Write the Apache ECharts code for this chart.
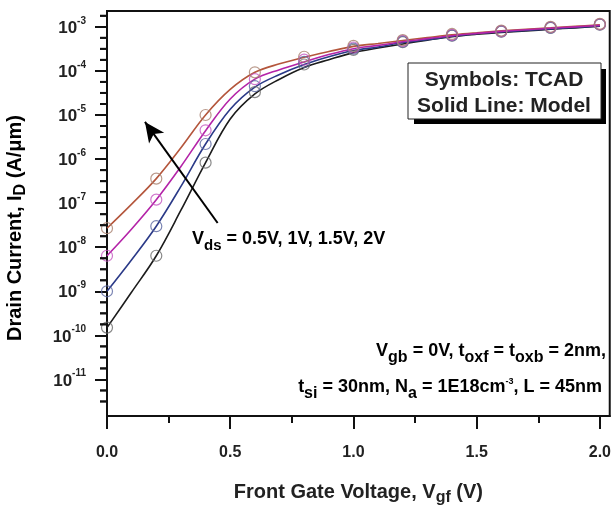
<!DOCTYPE html>
<html><head><meta charset="utf-8">
<script src="https://cdn.jsdelivr.net/npm/echarts@6/dist/echarts.min.js"></script>
<style>html,body{margin:0;padding:0;background:#fff}#c{width:614px;height:511px}</style>
</head><body><div id="c"></div>
<script>
// Model (solid lines) x grid
var xModel = [0,0.1,0.2,0.3,0.4,0.5,0.6,0.7,0.8,0.9,1.0,1.1,1.2,1.3,1.4,1.5,1.6,1.7,1.8,1.9,2.0];
var model05 = [1.5e-10,9.6e-10,6.4e-9,6.9e-8,8.3e-7,8.1e-6,3.0e-5,6.5e-5,1.2e-4,1.8e-4,2.6e-4,3.3e-4,4.1e-4,5.0e-4,6.0e-4,6.8e-4,7.5e-4,8.1e-4,8.8e-4,9.5e-4,1.03e-3];
var model10 = [1.0e-9,5.2e-9,3.0e-8,2.4e-7,2.2e-6,1.35e-5,4.3e-5,8.3e-5,1.4e-4,2.1e-4,2.9e-4,3.5e-4,4.4e-4,5.1e-4,6.1e-4,7.0e-4,7.7e-4,8.3e-4,9.0e-4,9.7e-4,1.05e-3];
var model15 = [6.4e-9,2.6e-8,1.2e-7,6.8e-7,4.4e-6,2.3e-5,6.5e-5,1.07e-4,1.6e-4,2.35e-4,3.2e-4,3.8e-4,4.6e-4,5.4e-4,6.3e-4,7.1e-4,7.9e-4,8.6e-4,9.3e-4,1.0e-3,1.08e-3];
var model20 = [2.7e-8,9.5e-8,3.6e-7,1.8e-6,1.0e-5,3.8e-5,9.3e-5,1.45e-4,2.05e-4,2.75e-4,3.6e-4,4.2e-4,4.9e-4,5.7e-4,6.6e-4,7.3e-4,8.1e-4,8.8e-4,9.5e-4,1.03e-3,1.11e-3];
// TCAD (symbols)
var xTcad = [0,0.2,0.4,0.6,0.8,1.0,1.2,1.4,1.6,1.8,2.0];
var tcad05 = [1.5e-10,6.4e-9,8.3e-7,3.3e-5,1.4e-4,3.0e-4,4.5e-4,6.3e-4,7.8e-4,9.5e-4,1.12e-3];
var tcad10 = [1.0e-9,3.0e-8,2.2e-6,4.5e-5,1.6e-4,3.2e-4,4.6e-4,6.4e-4,7.9e-4,9.6e-4,1.13e-3];
var tcad15 = [6.4e-9,1.2e-7,4.5e-6,6.5e-5,1.8e-4,3.4e-4,4.8e-4,6.6e-4,8.0e-4,9.8e-4,1.15e-3];
var tcad20 = [2.7e-8,3.6e-7,1.0e-5,9.3e-5,2.1e-4,3.7e-4,5.0e-4,6.9e-4,8.2e-4,1.0e-3,1.17e-3];
// Axis ticks
var xMajorTicks = [0,0.5,1.0,1.5,2.0];
var xMinorTicks = [0.25,0.75,1.25,1.75];
var yMajorTicks = [1e-11,1e-10,1e-9,1e-8,1e-7,1e-6,1e-5,1e-4,1e-3];
var yMinorExps = [-11.5,-11.25,-10.75,-10.5,-10.25,-9.75,-9.5,-9.25,-8.75,-8.5,-8.25,-7.75,-7.5,-7.25,-6.75,-6.5,-6.25,-5.75,-5.5,-5.25,-4.75,-4.5,-4.25,-3.75,-3.5,-3.25,-2.75];
// Arrow annotation (data coords)
var arrowFrom = [0.449, 3.55e-8];
var arrowTo = [0.154, 6.97e-6];

var FONT = '"Liberation Sans", Arial, sans-serif';
var X_MIN = 0, X_MAX = 2.04, Y_MIN = 1.48e-12, Y_MAX = 2.29e-3;

function pairs(xs, ys){ return xs.map(function(x,i){return [x, ys[i]];}); }
var yMinorData = yMinorExps.map(function(e){return [0, Math.pow(10,e)];});

var lineColors = {v05:'#1c1c1c', v10:'#2b3a88', v15:'#b424a8', v20:'#b4563c'};
var symColors = {v05:'#6a6a6a', v10:'#5a66a0', v15:'#c456c0', v20:'#a8806e'};

function lineSeries(name, data, color){
  return {type:'line', name:name, data:pairs(xModel,data), showSymbol:false, symbol:'none', smooth:0.35,
    lineStyle:{color:color,width:1.6}, itemStyle:{color:color}, z:3, silent:true};
}
function symSeries(name, data, color){
  return {type:'scatter', name:name, data:pairs(xTcad,data), symbol:'circle', symbolSize:11, clip:false,
    itemStyle:{color:'rgba(0,0,0,0)', borderColor:color, borderWidth:1.2}, z:4, silent:true};
}
function B(o){ return Object.assign({fontFamily:FONT, fontWeight:'bold', color:'#222'}, o); }
function subRich(main, sub, drop, lh){
  return {m:B({fontSize:main, lineHeight:lh, verticalAlign:'top'}), s:B({fontSize:sub, lineHeight:lh, verticalAlign:'top', padding:[drop,0,0,0]})};
}

var chart = echarts.init(document.getElementById('c'), null, {renderer:'canvas'});
var option = {
  animation:false,
  backgroundColor:'#fff',
  grid:{left:107, right:3, top:11, bottom:90, show:true, borderColor:'#111', borderWidth:2, backgroundColor:'#fff'},
  xAxis:[{
    type:'value', min:X_MIN, max:X_MAX, interval:0.5,
    axisLine:{show:true, onZero:false, lineStyle:{color:'#111', width:2}},
    axisTick:{show:true, inside:false, length:13, lineStyle:{color:'#111', width:2}, customValues:xMajorTicks},
    axisLabel:{show:true, margin:29, customValues:xMajorTicks, fontSize:16, fontFamily:FONT, fontWeight:'bold', color:'#222',
      formatter:function(v){return v.toFixed(1);}},
    splitLine:{show:false},
    name:'{m|Front Gate Voltage, V}{s|gf}{m| (V)}', nameLocation:'middle', nameGap:66,
    nameTextStyle:{rich:subRich(20, 16, 8, 24)}
  },{
    type:'value', min:X_MIN, max:X_MAX, position:'bottom',
    axisLine:{show:false}, axisLabel:{show:false}, splitLine:{show:false},
    axisTick:{show:true, inside:false, length:7, lineStyle:{color:'#111', width:2}, customValues:xMinorTicks}
  }],
  yAxis:[{
    type:'log', logBase:10, min:Y_MIN, max:Y_MAX,
    axisLine:{show:true, onZero:false, lineStyle:{color:'#111', width:2}},
    axisTick:{show:true, inside:false, length:12, lineStyle:{color:'#111', width:2}, customValues:yMajorTicks},
    axisLabel:{show:true, margin:21, customValues:yMajorTicks,
      formatter:function(v){ var e = Math.round(Math.log(v)/Math.LN10); return '{b|10}{s|' + e + '}'; },
      rich:{b:B({fontSize:17, lineHeight:20, verticalAlign:'bottom'}), s:B({fontSize:10, lineHeight:20, verticalAlign:'bottom', padding:[0,0,11,0]})}},
    splitLine:{show:false}
  }],
  series:[
    {type:'custom', name:'yMinorTicks', silent:true, clip:false, z:6,
      data:yMinorData,
      renderItem:function(params, api){
        var p = api.coord([api.value(0), api.value(1)]);
        return {type:'line', shape:{x1:p[0]-7, y1:p[1], x2:p[0], y2:p[1]}, style:{stroke:'#111', lineWidth:2}};
      }},
    {type:'scatter', name:'yMinorTicks2', silent:true, clip:false, z:6, data:yMinorData,
      symbol:'rect', symbolSize:[7,2], symbolOffset:[-3.5,0], itemStyle:{color:'#111'}},
    lineSeries('0.5V', model05, lineColors.v05),
    lineSeries('1V', model10, lineColors.v10),
    lineSeries('2V', model20, lineColors.v20),
    lineSeries('1.5V', model15, lineColors.v15),
    symSeries('TCAD 0.5V', tcad05, symColors.v05),
    symSeries('TCAD 1V', tcad10, symColors.v10),
    symSeries('TCAD 1.5V', tcad15, symColors.v15),
    Object.assign(symSeries('TCAD 2V', tcad20, symColors.v20), {
      markLine:{silent:true, symbol:['none','arrow'], symbolSize:[14,20], label:{show:false},
        lineStyle:{color:'#000', width:2, type:'solid'},
        data:[[{coord:arrowFrom},{coord:arrowTo}]]}
    })
  ],
  graphic:[
    {type:'rect', shape:{x:414, y:69, width:192, height:55}, style:{fill:'#000'}, z:10},
    {type:'rect', shape:{x:408, y:63, width:193, height:56}, style:{fill:'#fff', stroke:'#222', lineWidth:1}, z:11},
    {type:'text', x:504, y:80, style:{text:'Symbols: TCAD', font:'bold 21px '+FONT, fill:'#222', align:'center', verticalAlign:'middle'}, z:12},
    {type:'text', x:504, y:106, style:{text:'Solid Line: Model', font:'bold 21px '+FONT, fill:'#222', align:'center', verticalAlign:'middle'}, z:12},
    {type:'text', x:17, y:228, rotation:Math.PI/2, style:{text:'{m|Drain Current, I}{s|D}{m| (A/\u03bcm)}',
      rich:subRich(20, 16, 8, 24), align:'center', verticalAlign:'middle'}, z:12},
    {type:'text', x:192, y:241, style:{text:'{m|V}{s|ds}{m| = 0.5V, 1V, 1.5V, 2V}',
      rich:subRich(18, 15, 8, 22), align:'left', verticalAlign:'middle'}, z:12},
    {type:'text', x:606, y:353, style:{text:'{m|V}{s|gb}{m| = 0V, t}{s|oxf}{m| = t}{s|oxb}{m| = 2nm,}',
      rich:subRich(18, 16, 8, 22), align:'right', verticalAlign:'middle'}, z:12},
    {type:'text', x:602, y:389, style:{text:'{m|t}{s|si}{m| = 30nm, N}{s|a}{m| = 1E18cm}{p|-3}{m|, L = 45nm}',
      rich:Object.assign(subRich(18, 16, 8, 22), {p:B({fontSize:9, lineHeight:22, verticalAlign:'top', padding:[-1,0,0,0]})}),
      align:'right', verticalAlign:'middle'}, z:12}
  ]
};
chart.setOption(option);
</script></body></html>
